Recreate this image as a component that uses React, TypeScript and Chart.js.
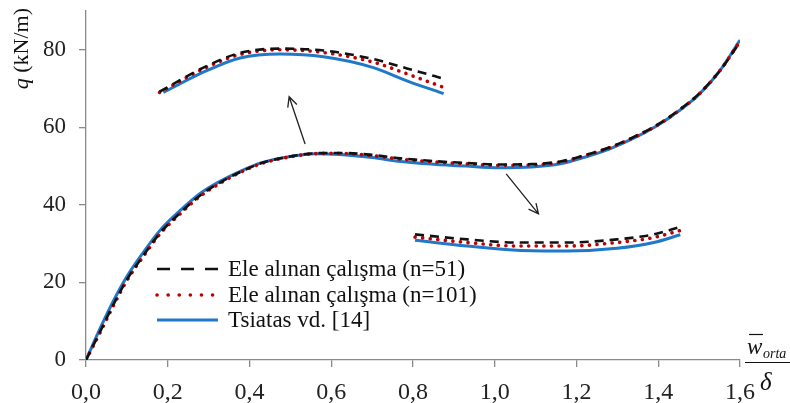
import React, { useEffect, useRef } from "react";
import { Chart, registerables } from "chart.js";
Chart.register(...registerables);

// Main curves: x = w̄_orta/δ, y = q (kN/m)
const blueX = [0, 0.034, 0.067, 0.10, 0.14, 0.18, 0.23, 0.28, 0.33, 0.38, 0.43, 0.50, 0.56, 0.62, 0.70, 0.77, 0.85, 0.93, 1.01, 1.09, 1.16, 1.22, 1.28, 1.34, 1.40, 1.45, 1.50, 1.55, 1.60];
const blueY = [0, 8.0, 15.2, 21.5, 27.7, 33.3, 38.5, 43.0, 46.2, 48.8, 50.9, 52.5, 53.2, 53.0, 52.2, 51.2, 50.5, 50.0, 49.6, 49.8, 50.6, 52.3, 54.4, 57.2, 60.6, 64.2, 68.5, 74.5, 82.5];
const n51X = [0, 0.034, 0.067, 0.10, 0.14, 0.18, 0.23, 0.28, 0.33, 0.38, 0.43, 0.50, 0.56, 0.62, 0.70, 0.77, 0.85, 0.93, 1.01, 1.09, 1.16, 1.22, 1.28, 1.34, 1.40, 1.45, 1.50, 1.55, 1.60];
const n51Y = [0, 7.2, 14.3, 20.7, 26.9, 32.6, 37.9, 42.5, 45.9, 48.6, 50.8, 52.5, 53.3, 53.4, 52.9, 52.0, 51.3, 50.8, 50.4, 50.5, 51.2, 52.8, 54.8, 57.5, 60.8, 64.4, 68.7, 74.5, 82.0];
const n101X = [0, 0.034, 0.067, 0.10, 0.14, 0.18, 0.23, 0.28, 0.33, 0.38, 0.43, 0.50, 0.56, 0.62, 0.70, 0.77, 0.85, 0.93, 1.01, 1.09, 1.16, 1.22, 1.28, 1.34, 1.40, 1.45, 1.50, 1.55, 1.60];
const n101Y = [0, 7.0, 14.0, 20.5, 26.7, 32.4, 37.7, 42.3, 45.7, 48.5, 50.7, 52.4, 53.2, 53.3, 52.7, 51.8, 51.1, 50.6, 50.2, 50.3, 51.0, 52.7, 54.7, 57.4, 60.7, 64.3, 68.6, 74.5, 82.2];

// Magnified insets (drawn in data coordinates)
const upBlueX = [0.189, 0.295, 0.377, 0.475, 0.581, 0.703, 0.785, 0.875];
const upBlueY = [69.0, 74.6, 77.9, 78.9, 78.2, 75.4, 72.0, 68.7];
const upN51X = [0.18, 0.295, 0.377, 0.475, 0.581, 0.703, 0.785, 0.88];
const upN51Y = [69.2, 75.8, 79.2, 80.3, 79.8, 77.6, 75.2, 72.4];
const upN101X = [0.18, 0.295, 0.377, 0.475, 0.581, 0.703, 0.785, 0.875];
const upN101Y = [69.0, 75.5, 78.8, 80.0, 79.3, 76.8, 73.8, 70.3];

const loBlueX = [0.805, 0.932, 1.054, 1.177, 1.299, 1.389, 1.454];
const loBlueY = [30.9, 29.4, 28.3, 28.1, 28.8, 30.3, 32.3];
const loN51X = [0.805, 0.932, 1.054, 1.177, 1.299, 1.389, 1.454];
const loN51Y = [32.4, 31.1, 30.3, 30.3, 31.1, 32.4, 34.3];
const loN101X = [0.805, 0.932, 1.054, 1.177, 1.299, 1.389, 1.454];
const loN101Y = [31.7, 30.3, 29.4, 29.4, 30.3, 31.6, 33.4];

// Arrows (from -> to, data coordinates)
const arrowFromX = [0.536, 1.028];
const arrowFromY = [55.7, 48.0];
const arrowToX = [0.497, 1.107];
const arrowToY = [67.9, 37.7];

const xTicks = [0, 0.2, 0.4, 0.6, 0.8, 1.0, 1.2, 1.4, 1.6];
const yTicks = [0, 20, 40, 60, 80];

const legendLabels = ["Ele alınan çalışma (n=51)", "Ele alınan çalışma (n=101)", "Tsiatas vd. [14]"];

const BLACK = "#111111";
const RED = "#C00000";
const BLUE = "#1F78C8";
const SERIF = "'Liberation Serif', 'DejaVu Serif', serif";

const pts = (xs: number[], ys: number[]) => xs.map((x, i) => ({ x, y: ys[i] }));

const dashed = { borderColor: BLACK, borderWidth: 2.6, borderDash: [9, 6] };
const dotted = { borderColor: RED, borderWidth: 3.6, borderDash: [0.1, 7.5], borderCapStyle: "round" as const };
const solid = { borderColor: BLUE, borderWidth: 3 };
const legendDash = [[13, 11], [0.1, 11], []];

const decorPlugin = {
  id: "decor",
  afterDatasetsDraw(chart: any) {
    const ctx = chart.ctx as CanvasRenderingContext2D;
    const xs = chart.scales.x;
    const ys = chart.scales.y;
    ctx.save();
    // arrows
    ctx.strokeStyle = "#222";
    ctx.fillStyle = "#222";
    ctx.lineWidth = 1.3;
    for (let i = 0; i < arrowFromX.length; i++) {
      const x1 = xs.getPixelForValue(arrowFromX[i]);
      const y1 = ys.getPixelForValue(arrowFromY[i]);
      const x2 = xs.getPixelForValue(arrowToX[i]);
      const y2 = ys.getPixelForValue(arrowToY[i]);
      ctx.beginPath();
      ctx.moveTo(x1, y1);
      ctx.lineTo(x2, y2);
      const a = Math.atan2(y2 - y1, x2 - x1);
      const L = 11;
      ctx.moveTo(x2 - L * Math.cos(a - 0.45), y2 - L * Math.sin(a - 0.45));
      ctx.lineTo(x2, y2);
      ctx.lineTo(x2 - L * Math.cos(a + 0.45), y2 - L * Math.sin(a + 0.45));
      ctx.stroke();
    }
    // legend
    const styles = [dashed, dotted, solid];
    const lx0 = 157, lx1 = 218, tx = 228;
    const rows = [269, 295, 320];
    ctx.font = `23px ${SERIF}`;
    ctx.textBaseline = "middle";
    ctx.textAlign = "left";
    for (let i = 0; i < 3; i++) {
      const s: any = styles[i];
      ctx.save();
      ctx.strokeStyle = s.borderColor;
      ctx.lineWidth = s.borderWidth;
      ctx.setLineDash(legendDash[i]);
      ctx.lineCap = s.borderCapStyle || "butt";
      ctx.beginPath();
      ctx.moveTo(lx0, rows[i]);
      ctx.lineTo(lx1, rows[i]);
      ctx.stroke();
      ctx.restore();
      ctx.fillStyle = "#111";
      ctx.fillText(legendLabels[i], tx, rows[i] + 1);
    }
    ctx.restore();

    // y title
    ctx.save();
    ctx.fillStyle = "#111";
    ctx.translate(22, 8);
    ctx.rotate(-Math.PI / 2);
    ctx.textBaseline = "middle";
    ctx.textAlign = "right";
    ctx.font = `22px ${SERIF}`;
    const rest = " (kN/m)";
    const wRest = ctx.measureText(rest).width;
    ctx.fillText(rest, 0, 0);
    ctx.font = `italic 22px ${SERIF}`;
    ctx.fillText("q", -wRest, 0);
    ctx.restore();

    // x title (fraction)
    ctx.save();
    ctx.fillStyle = "#111";
    ctx.strokeStyle = "#111";
    ctx.textBaseline = "alphabetic";
    ctx.textAlign = "left";
    ctx.font = `italic 23px ${SERIF}`;
    ctx.fillText("w", 747, 354);
    ctx.lineWidth = 1.2;
    ctx.beginPath();
    ctx.moveTo(749, 334.5);
    ctx.lineTo(763, 334.5);
    ctx.stroke();
    ctx.font = `italic 14px ${SERIF}`;
    ctx.fillText("orta", 763, 358);
    ctx.beginPath();
    ctx.moveTo(745, 362.5);
    ctx.lineTo(790, 362.5);
    ctx.stroke();
    ctx.font = `italic 25px ${SERIF}`;
    ctx.fillText("δ", 760, 390);
    ctx.restore();
  },
};

export default function App() {
  const ref = useRef<HTMLCanvasElement>(null);
  useEffect(() => {
    document.body.style.margin = "0";
    const base = { pointRadius: 0, fill: false, tension: 0.4, cubicInterpolationMode: "monotone" as const };
    const chart = new Chart(ref.current!, {
      type: "line",
      data: {
        datasets: [
          { ...base, ...dashed, label: legendLabels[0], data: pts(n51X, n51Y) },
          { ...base, ...dotted, label: legendLabels[1], data: pts(n101X, n101Y) },
          { ...base, ...solid, label: legendLabels[2], data: pts(blueX, blueY) },
          { ...base, ...dashed, label: "u51", data: pts(upN51X, upN51Y) },
          { ...base, ...dotted, label: "u101", data: pts(upN101X, upN101Y) },
          { ...base, ...solid, label: "ub", data: pts(upBlueX, upBlueY) },
          { ...base, ...dashed, label: "l51", data: pts(loN51X, loN51Y) },
          { ...base, ...dotted, label: "l101", data: pts(loN101X, loN101Y) },
          { ...base, ...solid, label: "lb", data: pts(loBlueX, loBlueY) },
        ] as any,
      },
      options: {
        animation: false,
        responsive: false,
        layout: { padding: { left: 0, right: 50, top: 11, bottom: 0 } },
        plugins: { legend: { display: false }, tooltip: { enabled: false } },
        scales: {
          x: {
            type: "linear",
            min: 0,
            max: 1.6,
            afterBuildTicks: (s: any) => { s.ticks = xTicks.map((v) => ({ value: v })); },
            afterFit: (s: any) => { s.height = 43; s.paddingLeft = 0; s.paddingRight = 0; },
            ticks: {
              color: "#222",
              font: { family: SERIF, size: 24 },
              padding: 11,
              maxRotation: 0,
              callback: (v: any) => Number(v).toFixed(1).replace(".", ","),
            },
            grid: { display: true, drawOnChartArea: false, tickLength: 7, color: "#8a8a8a", lineWidth: 1.3 },
            border: { color: "#8a8a8a", width: 1.3 },
          },
          y: {
            type: "linear",
            min: 0,
            max: 90,
            afterBuildTicks: (s: any) => { s.ticks = yTicks.map((v) => ({ value: v })); },
            afterFit: (s: any) => { s.width = 86; s.paddingTop = 0; s.paddingBottom = 0; },
            ticks: {
              color: "#222",
              font: { family: SERIF, size: 23 },
              padding: 13,
            },
            grid: { display: true, drawOnChartArea: false, tickLength: 7, color: "#8a8a8a", lineWidth: 1.3 },
            border: { color: "#8a8a8a", width: 1.3 },
          },
        },
      },
      plugins: [decorPlugin],
    });
    return () => chart.destroy();
  }, []);
  return (
    <div style={{ position: "fixed", left: 0, top: 0, width: 790, height: 403, background: "#fff" }}>
      <canvas ref={ref} width={790} height={403} style={{ width: 790, height: 403 }} />
    </div>
  );
}
